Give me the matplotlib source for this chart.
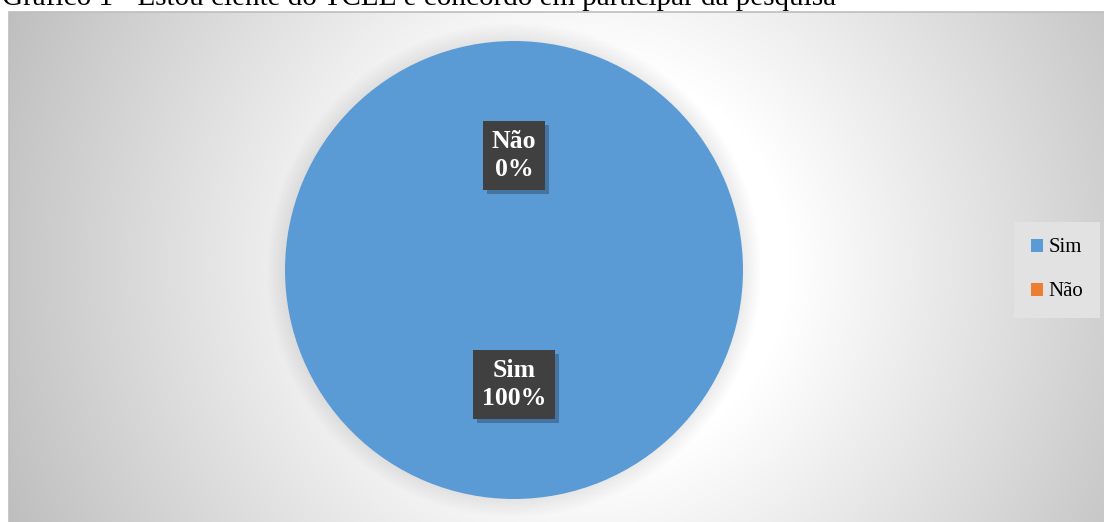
import numpy as np
import matplotlib
matplotlib.use("Agg")
import matplotlib.pyplot as plt
from matplotlib import patheffects
from matplotlib.patches import Rectangle, Circle

plt.rcParams['font.family'] = ['Liberation Serif', 'DejaVu Serif']

# dados do gráfico
categorias = ['Sim', 'Não']
percentuais = [100, 0]
cores = ['#5B9BD5', '#ED7D31']
titulo = 'Gráfico 1 - Estou ciente do TCLE e concordo em participar da pesquisa'

W, H = 1104, 522
fig = plt.figure(figsize=(W / 100, H / 100), dpi=100)
fig.patch.set_facecolor('white')

# fundo da área do gráfico com gradiente radial
bg = fig.add_axes([0, 0, 1, 1], zorder=0)
bg.set_xlim(0, W)
bg.set_ylim(0, H)
bg.axis('off')
x0, x1, y0, y1 = 9, W, 0, H - 12
xx, yy = np.meshgrid(np.arange(x0, x1), np.arange(y0, y1))
r = np.hypot(xx - 590, yy - (H - 265))
v = 1.0 - (1.0 - 0.75) * np.clip((r - 200) / 430.0, 0, 1)
bg.imshow(np.dstack([v, v, v]), extent=(x0, x1, y0, y1), origin='lower',
          interpolation='bilinear', aspect='auto')
bg.add_patch(Rectangle((x0, y0 - 20), x1 - x0 + 40, y1 - y0 + 20, fill=False,
                       edgecolor='#bdbdbd', lw=1.2, clip_on=False))

fig.text(0.002, (H - 5) / H, titulo, fontsize=21, va='baseline',
         ha='left', color='black')

# pizza
cx, cy, R = 514, 270, 229
ax = fig.add_axes([(cx - R) / W, (H - cy - R) / H, 2 * R / W, 2 * R / H],
                  zorder=1)
wedges, _ = ax.pie(percentuais, colors=cores, startangle=90,
                   counterclock=False, radius=1.0,
                   wedgeprops=dict(linewidth=0))
ax.set_xlim(-1, 1)
ax.set_ylim(-1, 1)
ax.axis('off')

# sombra suave em volta da pizza
for k in range(1, 21):
    ax.add_patch(Circle((0, 0), 1 + k * 0.004, color='black', alpha=0.005,
                        zorder=0, clip_on=False, lw=0))

for w, cat, pct in zip(wedges, categorias, percentuais):
    ang = np.deg2rad((w.theta1 + w.theta2) / 2)
    t = ax.text(0.5 * np.cos(ang), 0.5 * np.sin(ang), f'{cat}\n{pct:.0f}%',
                ha='center', va='center', color='white', fontsize=18.5,
                fontweight='bold', linespacing=1.25, zorder=5,
                bbox=dict(boxstyle='square,pad=0.35', facecolor='#404040',
                          edgecolor='none', lw=0))
    t.get_bbox_patch().set_path_effects([
        patheffects.SimplePatchShadow(offset=(3, -3), shadow_rgbFace='black',
                                      alpha=0.25),
        patheffects.Normal()])

leg = fig.legend(wedges, categorias, loc='center right',
                 bbox_to_anchor=(1100 / W, (H - 270) / H), fontsize=15,
                 frameon=True, fancybox=False, framealpha=1,
                 handlelength=0.6, handleheight=0.6, handletextpad=0.25,
                 labelspacing=1.2, borderpad=0.8, borderaxespad=0)
leg.get_frame().set_facecolor('#e2e2e2')
leg.get_frame().set_edgecolor('none')
leg.set_zorder(6)

fig.savefig('out.png', dpi=100)
